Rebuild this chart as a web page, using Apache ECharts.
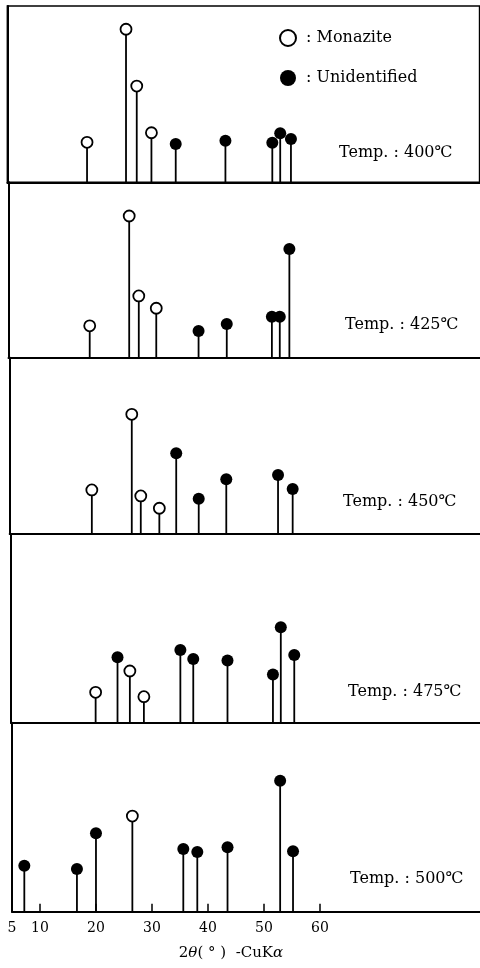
<!DOCTYPE html>
<html>
<head>
<meta charset="utf-8">
<script src="https://cdn.jsdelivr.net/npm/echarts@6/dist/echarts.min.js"></script>
<style>
  html, body { margin: 0; padding: 0; background: #fff; }
  #chart { width: 480px; height: 968px; }
</style>
</head>
<body>
<div id="chart"></div>
<script>
// XRD peak positions (2θ, degrees) and relative intensities (% of panel height)
const temperatures = ['400', '425', '450', '475', '500'];

const monazite400 = [[19.1, 22.7], [26.0, 86.8], [27.9, 54.6], [30.5, 28.1]];
const unidentified400 = [[34.8, 21.7], [43.6, 23.6], [51.9, 22.5], [53.3, 27.8], [55.2, 24.6]];

const monazite425 = [[19.4, 18.2], [26.4, 80.8], [28.1, 35.2], [31.2, 28.2]];
const unidentified425 = [[38.7, 15.2], [43.7, 19.2], [51.7, 23.4], [53.1, 23.4], [54.8, 62.0]];

const monazite450 = [[19.6, 25.0], [26.7, 67.9], [28.3, 21.6], [31.6, 14.6]];
const unidentified450 = [[34.6, 45.8], [38.6, 20.0], [43.5, 31.0], [52.7, 33.5], [55.3, 25.5]];

const monazite475 = [[20.1, 16.1], [26.2, 27.4], [28.7, 13.8]];
const unidentified475 = [[24.0, 34.7], [35.2, 38.5], [37.5, 33.8], [43.6, 32.9], [51.7, 25.6], [53.1, 50.6], [55.5, 35.9]];

const monazite500 = [[26.5, 50.6]];
const unidentified500 = [[7.2, 24.3], [16.6, 22.6], [20.0, 41.5], [35.6, 33.2], [38.1, 31.6], [43.5, 34.1], [52.9, 69.3], [55.2, 32.0]];

const xTickLabels = [5, 10, 20, 30, 40, 50, 60];
const xTicks = [10, 20, 30, 40, 50, 60];

const monazitePanels = [monazite400, monazite425, monazite450, monazite475, monazite500];
const unidentifiedPanels = [unidentified400, unidentified425, unidentified450, unidentified475, unidentified500];

// panel layout (pixels)
const panelLeft = [7.4, 8.5, 9.7, 10.9, 12];
const panelTop = [6, 182.3, 357.7, 534, 722.7];
const panelHeight = [176.3, 175.4, 176.3, 188.7, 189];
const panelWidth = 472.2;
const tempLabelX = [339, 345, 343, 348, 350];
const tempLabelY = [155, 326.7, 504.3, 694, 881.3];

const FONT = '"DejaVu Serif", "Liberation Serif", serif';
const X_MIN = 5, X_MAX = 88.6;

const grids = [], xAxes = [], yAxes = [], series = [], graphics = [];

for (let i = 0; i < 5; i++) {
  const last = i === 4;
  grids.push({
    left: panelLeft[i], top: panelTop[i], width: panelWidth, height: panelHeight[i],
    show: i === 0, borderColor: '#000', borderWidth: 1.6, backgroundColor: 'transparent'
  });
  xAxes.push({
    type: 'value', gridIndex: i, min: X_MIN, max: X_MAX,
    axisLine: { show: true, onZero: false, lineStyle: { color: '#000', width: 2 } },
    axisTick: last ? { show: true, inside: true, length: 8, customValues: xTicks, lineStyle: { color: '#000', width: 1.5 } } : { show: false },
    axisLabel: last ? { show: true, customValues: xTickLabels, margin: 10, color: '#000', fontFamily: FONT, fontSize: 14 } : { show: false },
    splitLine: { show: false },
    name: last ? '2{i|θ}( ° )  -CuK{i|α}' : '',
    nameLocation: 'middle', nameGap: 34,
    nameTextStyle: {
      color: '#000', fontFamily: FONT, fontSize: 15, padding: [0, 30, 0, 0],
      rich: { i: { fontStyle: 'italic', fontFamily: FONT, fontSize: 15, color: '#000' } }
    }
  });
  yAxes.push({
    type: 'value', gridIndex: i, min: 0, max: 100,
    axisLine: { show: true, lineStyle: { color: '#000', width: 2 } },
    axisTick: { show: false }, axisLabel: { show: false }, splitLine: { show: false }
  });

  const allPeaks = monazitePanels[i].concat(unidentifiedPanels[i]);
  series.push({
    name: 'stick', type: 'bar', xAxisIndex: i, yAxisIndex: i,
    barWidth: 1.8, itemStyle: { color: '#000', opacity: 1 }, z: 2,
    data: allPeaks
  });
  series.push({
    name: 'Monazite', type: 'scatter', xAxisIndex: i, yAxisIndex: i,
    symbol: 'circle', symbolSize: 11,
    itemStyle: { color: '#fff', borderColor: '#000', borderWidth: 1.8, opacity: 1 }, z: 4,
    data: monazitePanels[i]
  });
  series.push({
    name: 'Unidentified', type: 'scatter', xAxisIndex: i, yAxisIndex: i,
    symbol: 'circle', symbolSize: 12,
    itemStyle: { color: '#000', opacity: 1 }, z: 4,
    data: unidentifiedPanels[i]
  });

  graphics.push({
    type: 'text', left: tempLabelX[i], top: tempLabelY[i] - 10,
    style: { text: 'Temp. : ' + temperatures[i] + '℃', fill: '#000', font: '16px ' + FONT }
  });
}

const chart = echarts.init(document.getElementById('chart'), null, { renderer: 'canvas' });
chart.setOption({
  animation: false,
  backgroundColor: '#fff',
  grid: grids, xAxis: xAxes, yAxis: yAxes, series: series,
  legend: {
    data: ['Monazite', 'Unidentified'],
    orient: 'vertical', left: 274, top: 24,
    itemWidth: 16, itemHeight: 16, itemGap: 23,
    icon: 'circle',
    formatter: name => ' : ' + name,
    itemStyle: { opacity: 1 },
    textStyle: { color: '#000', fontFamily: FONT, fontSize: 16 }
  },
  graphic: graphics
});
</script>
</body>
</html>
